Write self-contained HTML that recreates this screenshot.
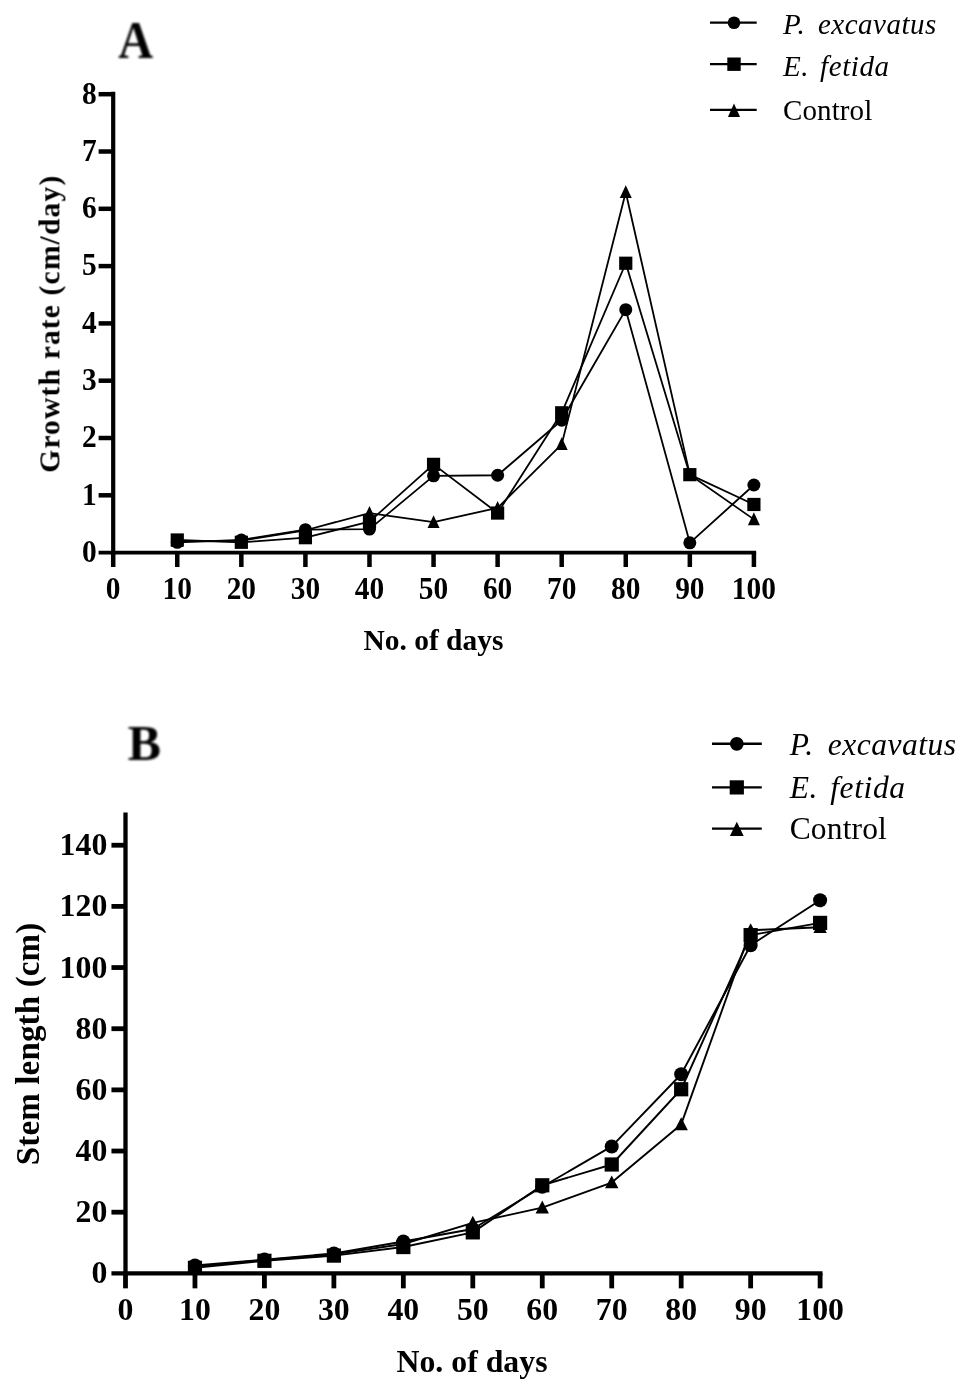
<!DOCTYPE html>
<html lang="en"><head><meta charset="utf-8"><title>Growth rate and stem length</title>
<style>html,body{margin:0;padding:0;background:#fff}svg{display:block}text{font-family:"Liberation Serif", "Times New Roman", serif;fill:#000}</style></head><body>
<svg width="967" height="1386" viewBox="0 0 967 1386">
<rect width="967" height="1386" fill="#fff"/>
<defs><filter id="soft" x="0" y="0" width="100%" height="100%" filterUnits="userSpaceOnUse" color-interpolation-filters="sRGB"><feGaussianBlur stdDeviation="0.55"/></filter><filter id="softer" x="-20%" y="-20%" width="140%" height="140%" color-interpolation-filters="sRGB"><feGaussianBlur stdDeviation="0.8"/></filter></defs>
<g filter="url(#soft)">
<g stroke="#000" fill="none" stroke-linecap="butt">
<path stroke-width="4.2" d="M113.2 91.8 V554.5"/>
<path stroke-width="3.8" d="M98.6 552.6 H756.15"/>
<g stroke-width="4.5">
<path d="M98.6 495.3 H113.2"/>
<path d="M98.6 438 H113.2"/>
<path d="M98.6 380.7 H113.2"/>
<path d="M98.6 323.4 H113.2"/>
<path d="M98.6 266.1 H113.2"/>
<path d="M98.6 208.8 H113.2"/>
<path d="M98.6 151.5 H113.2"/>
<path d="M98.6 94.2 H113.2"/>
<path d="M113.2 552.6 V567"/>
<path d="M177.27 552.6 V567"/>
<path d="M241.34 552.6 V567"/>
<path d="M305.41 552.6 V567"/>
<path d="M369.48 552.6 V567"/>
<path d="M433.55 552.6 V567"/>
<path d="M497.62 552.6 V567"/>
<path d="M561.69 552.6 V567"/>
<path d="M625.76 552.6 V567"/>
<path d="M689.83 552.6 V567"/>
<path d="M753.9 552.6 V567"/>
</g></g>
<text x="96.6" y="561.9" font-size="30.5" text-anchor="end" font-weight="bold" font-style="normal" textLength="14.7" lengthAdjust="spacingAndGlyphs">0</text>
<text x="96.6" y="504.6" font-size="30.5" text-anchor="end" font-weight="bold" font-style="normal" textLength="14.7" lengthAdjust="spacingAndGlyphs">1</text>
<text x="96.6" y="447.3" font-size="30.5" text-anchor="end" font-weight="bold" font-style="normal" textLength="14.7" lengthAdjust="spacingAndGlyphs">2</text>
<text x="96.6" y="390" font-size="30.5" text-anchor="end" font-weight="bold" font-style="normal" textLength="14.7" lengthAdjust="spacingAndGlyphs">3</text>
<text x="96.6" y="332.7" font-size="30.5" text-anchor="end" font-weight="bold" font-style="normal" textLength="14.7" lengthAdjust="spacingAndGlyphs">4</text>
<text x="96.6" y="275.4" font-size="30.5" text-anchor="end" font-weight="bold" font-style="normal" textLength="14.7" lengthAdjust="spacingAndGlyphs">5</text>
<text x="96.6" y="218.1" font-size="30.5" text-anchor="end" font-weight="bold" font-style="normal" textLength="14.7" lengthAdjust="spacingAndGlyphs">6</text>
<text x="96.6" y="160.8" font-size="30.5" text-anchor="end" font-weight="bold" font-style="normal" textLength="14.7" lengthAdjust="spacingAndGlyphs">7</text>
<text x="96.6" y="103.5" font-size="30.5" text-anchor="end" font-weight="bold" font-style="normal" textLength="14.7" lengthAdjust="spacingAndGlyphs">8</text>
<text x="113.2" y="598.6" font-size="30.5" text-anchor="middle" font-weight="bold" font-style="normal" textLength="14.7" lengthAdjust="spacingAndGlyphs">0</text>
<text x="177.27" y="598.6" font-size="30.5" text-anchor="middle" font-weight="bold" font-style="normal" textLength="29.4" lengthAdjust="spacingAndGlyphs">10</text>
<text x="241.34" y="598.6" font-size="30.5" text-anchor="middle" font-weight="bold" font-style="normal" textLength="29.4" lengthAdjust="spacingAndGlyphs">20</text>
<text x="305.41" y="598.6" font-size="30.5" text-anchor="middle" font-weight="bold" font-style="normal" textLength="29.4" lengthAdjust="spacingAndGlyphs">30</text>
<text x="369.48" y="598.6" font-size="30.5" text-anchor="middle" font-weight="bold" font-style="normal" textLength="29.4" lengthAdjust="spacingAndGlyphs">40</text>
<text x="433.55" y="598.6" font-size="30.5" text-anchor="middle" font-weight="bold" font-style="normal" textLength="29.4" lengthAdjust="spacingAndGlyphs">50</text>
<text x="497.62" y="598.6" font-size="30.5" text-anchor="middle" font-weight="bold" font-style="normal" textLength="29.4" lengthAdjust="spacingAndGlyphs">60</text>
<text x="561.69" y="598.6" font-size="30.5" text-anchor="middle" font-weight="bold" font-style="normal" textLength="29.4" lengthAdjust="spacingAndGlyphs">70</text>
<text x="625.76" y="598.6" font-size="30.5" text-anchor="middle" font-weight="bold" font-style="normal" textLength="29.4" lengthAdjust="spacingAndGlyphs">80</text>
<text x="689.83" y="598.6" font-size="30.5" text-anchor="middle" font-weight="bold" font-style="normal" textLength="29.4" lengthAdjust="spacingAndGlyphs">90</text>
<text x="753.9" y="598.6" font-size="30.5" text-anchor="middle" font-weight="bold" font-style="normal" textLength="44.1" lengthAdjust="spacingAndGlyphs">100</text>
<g stroke="#000" stroke-width="1.8" fill="none" stroke-linejoin="round">
<polyline points="177.27,542.29 241.34,539.99 305.41,529.68 369.48,529.11 433.55,475.82 497.62,475.25 561.69,420.24 625.76,309.65 689.83,542.86 753.9,484.99"/>
<polyline points="177.27,539.99 241.34,542.29 305.41,537.7 369.48,521.66 433.55,464.36 497.62,513.06 561.69,412.79 625.76,263.24 689.83,474.67 753.9,504.47"/>
<polyline points="177.27,541.14 241.34,540.57 305.41,530.25 369.48,513.06 433.55,522.23 497.62,507.91 561.69,444.3 625.76,192.18 689.83,474.67 753.9,519.37"/>
</g>
<g fill="#000">
<polygon points="177.27,534.14 183.27,546.94 171.27,546.94"/>
<polygon points="241.34,533.57 247.34,546.37 235.34,546.37"/>
<polygon points="305.41,523.25 311.41,536.05 299.41,536.05"/>
<polygon points="369.48,506.06 375.48,518.86 363.48,518.86"/>
<polygon points="433.55,515.23 439.55,528.03 427.55,528.03"/>
<polygon points="497.62,500.91 503.62,513.71 491.62,513.71"/>
<polygon points="561.69,437.3 567.69,450.1 555.69,450.1"/>
<polygon points="625.76,185.18 631.76,197.98 619.76,197.98"/>
<polygon points="689.83,467.67 695.83,480.47 683.83,480.47"/>
<polygon points="753.9,512.37 759.9,525.17 747.9,525.17"/>
<circle cx="177.27" cy="542.29" r="6.5"/>
<circle cx="241.34" cy="539.99" r="6.5"/>
<circle cx="305.41" cy="529.68" r="6.5"/>
<circle cx="369.48" cy="529.11" r="6.5"/>
<circle cx="433.55" cy="475.82" r="6.5"/>
<circle cx="497.62" cy="475.25" r="6.5"/>
<circle cx="561.69" cy="420.24" r="6.5"/>
<circle cx="625.76" cy="309.65" r="6.5"/>
<circle cx="689.83" cy="542.86" r="6.5"/>
<circle cx="753.9" cy="484.99" r="6.5"/>
<rect x="170.67" y="533.39" width="13.2" height="13.2"/>
<rect x="234.74" y="535.69" width="13.2" height="13.2"/>
<rect x="298.81" y="531.1" width="13.2" height="13.2"/>
<rect x="362.88" y="515.06" width="13.2" height="13.2"/>
<rect x="426.95" y="457.76" width="13.2" height="13.2"/>
<rect x="491.02" y="506.46" width="13.2" height="13.2"/>
<rect x="555.09" y="406.19" width="13.2" height="13.2"/>
<rect x="619.16" y="256.64" width="13.2" height="13.2"/>
<rect x="683.23" y="468.07" width="13.2" height="13.2"/>
<rect x="747.3" y="497.87" width="13.2" height="13.2"/>
</g>
<text x="433.4" y="650.3" font-size="30" text-anchor="middle" font-weight="bold" font-style="normal" textLength="140" lengthAdjust="spacingAndGlyphs">No. of days</text>
<text transform="translate(59.4 324.3) rotate(-90)" font-size="29.5" text-anchor="middle" font-weight="bold" textLength="297" lengthAdjust="spacing">Growth rate (cm/day)</text>
<text x="118.2" y="58" font-size="52" font-weight="bold" fill="#111" filter="url(#softer)" textLength="34.8" lengthAdjust="spacingAndGlyphs">A</text>
<g stroke="#000" stroke-width="2.3">
<path d="M710 22.7 H756.7"/>
<path d="M710 64.2 H756.7"/>
<path d="M710 109.8 H756.7"/>
</g><g fill="#000">
<circle cx="734" cy="22.7" r="6.3"/>
<rect x="727.3" y="57.5" width="13.4" height="13.4"/>
<polygon points="734,103.5 740.1,117.1 727.9,117.1"/>
</g>
<text x="783" y="33.8" font-size="29" text-anchor="start" font-weight="normal" font-style="italic" letter-spacing="0.5" word-spacing="5">P. excavatus</text>
<text x="783" y="76.2" font-size="29" text-anchor="start" font-weight="normal" font-style="italic" letter-spacing="0.6" word-spacing="3">E. fetida</text>
<text x="783" y="120.3" font-size="29" text-anchor="start" font-weight="normal" font-style="normal" letter-spacing="0.1" word-spacing="0">Control</text>
<g stroke="#000" fill="none" stroke-linecap="butt">
<path stroke-width="4.3" d="M125.5 812.4 V1275.45"/>
<path stroke-width="4.2" d="M111.45 1273.35 H822.5"/>
<g stroke-width="4.8">
<path d="M111.45 1212.19 H125.5"/>
<path d="M111.45 1151.03 H125.5"/>
<path d="M111.45 1089.87 H125.5"/>
<path d="M111.45 1028.71 H125.5"/>
<path d="M111.45 967.55 H125.5"/>
<path d="M111.45 906.39 H125.5"/>
<path d="M111.45 845.23 H125.5"/>
<path d="M125.5 1273.35 V1288.35"/>
<path d="M194.96 1273.35 V1288.35"/>
<path d="M264.42 1273.35 V1288.35"/>
<path d="M333.88 1273.35 V1288.35"/>
<path d="M403.34 1273.35 V1288.35"/>
<path d="M472.8 1273.35 V1288.35"/>
<path d="M542.26 1273.35 V1288.35"/>
<path d="M611.72 1273.35 V1288.35"/>
<path d="M681.18 1273.35 V1288.35"/>
<path d="M750.64 1273.35 V1288.35"/>
<path d="M820.1 1273.35 V1288.35"/>
</g></g>
<text x="107.3" y="1283.35" font-size="32.5" text-anchor="end" font-weight="bold" font-style="normal" textLength="15.9" lengthAdjust="spacingAndGlyphs">0</text>
<text x="107.3" y="1222.19" font-size="32.5" text-anchor="end" font-weight="bold" font-style="normal" textLength="31.8" lengthAdjust="spacingAndGlyphs">20</text>
<text x="107.3" y="1161.03" font-size="32.5" text-anchor="end" font-weight="bold" font-style="normal" textLength="31.8" lengthAdjust="spacingAndGlyphs">40</text>
<text x="107.3" y="1099.87" font-size="32.5" text-anchor="end" font-weight="bold" font-style="normal" textLength="31.8" lengthAdjust="spacingAndGlyphs">60</text>
<text x="107.3" y="1038.71" font-size="32.5" text-anchor="end" font-weight="bold" font-style="normal" textLength="31.8" lengthAdjust="spacingAndGlyphs">80</text>
<text x="107.3" y="977.55" font-size="32.5" text-anchor="end" font-weight="bold" font-style="normal" textLength="47.7" lengthAdjust="spacingAndGlyphs">100</text>
<text x="107.3" y="916.39" font-size="32.5" text-anchor="end" font-weight="bold" font-style="normal" textLength="47.7" lengthAdjust="spacingAndGlyphs">120</text>
<text x="107.3" y="855.23" font-size="32.5" text-anchor="end" font-weight="bold" font-style="normal" textLength="47.7" lengthAdjust="spacingAndGlyphs">140</text>
<text x="125.5" y="1319.5" font-size="32.5" text-anchor="middle" font-weight="bold" font-style="normal" textLength="15.9" lengthAdjust="spacingAndGlyphs">0</text>
<text x="194.96" y="1319.5" font-size="32.5" text-anchor="middle" font-weight="bold" font-style="normal" textLength="31.8" lengthAdjust="spacingAndGlyphs">10</text>
<text x="264.42" y="1319.5" font-size="32.5" text-anchor="middle" font-weight="bold" font-style="normal" textLength="31.8" lengthAdjust="spacingAndGlyphs">20</text>
<text x="333.88" y="1319.5" font-size="32.5" text-anchor="middle" font-weight="bold" font-style="normal" textLength="31.8" lengthAdjust="spacingAndGlyphs">30</text>
<text x="403.34" y="1319.5" font-size="32.5" text-anchor="middle" font-weight="bold" font-style="normal" textLength="31.8" lengthAdjust="spacingAndGlyphs">40</text>
<text x="472.8" y="1319.5" font-size="32.5" text-anchor="middle" font-weight="bold" font-style="normal" textLength="31.8" lengthAdjust="spacingAndGlyphs">50</text>
<text x="542.26" y="1319.5" font-size="32.5" text-anchor="middle" font-weight="bold" font-style="normal" textLength="31.8" lengthAdjust="spacingAndGlyphs">60</text>
<text x="611.72" y="1319.5" font-size="32.5" text-anchor="middle" font-weight="bold" font-style="normal" textLength="31.8" lengthAdjust="spacingAndGlyphs">70</text>
<text x="681.18" y="1319.5" font-size="32.5" text-anchor="middle" font-weight="bold" font-style="normal" textLength="31.8" lengthAdjust="spacingAndGlyphs">80</text>
<text x="750.64" y="1319.5" font-size="32.5" text-anchor="middle" font-weight="bold" font-style="normal" textLength="31.8" lengthAdjust="spacingAndGlyphs">90</text>
<text x="820.1" y="1319.5" font-size="32.5" text-anchor="middle" font-weight="bold" font-style="normal" textLength="47.7" lengthAdjust="spacingAndGlyphs">100</text>
<g stroke="#000" stroke-width="1.9" fill="none" stroke-linejoin="round">
<polyline points="194.96,1265.4 264.42,1259.59 333.88,1253.47 403.34,1241.55 472.8,1229.01 542.26,1186.81 611.72,1146.44 681.18,1074.27 750.64,945.23 820.1,900.27"/>
<polyline points="194.96,1267.85 264.42,1260.81 333.88,1255.61 403.34,1247.05 472.8,1232.37 542.26,1185.28 611.72,1164.49 681.18,1089.26 750.64,935.14 820.1,922.9"/>
<polyline points="194.96,1266.62 264.42,1259.89 333.88,1254.39 403.34,1243.99 472.8,1222.89 542.26,1207.6 611.72,1182.53 681.18,1124.43 750.64,930.24 820.1,927.18"/>
</g>
<g fill="#000">
<polygon points="194.96,1259.52 201.66,1272.42 188.26,1272.42"/>
<polygon points="264.42,1252.79 271.12,1265.69 257.72,1265.69"/>
<polygon points="333.88,1247.29 340.58,1260.19 327.18,1260.19"/>
<polygon points="403.34,1236.89 410.04,1249.79 396.64,1249.79"/>
<polygon points="472.8,1215.79 479.5,1228.69 466.1,1228.69"/>
<polygon points="542.26,1200.5 548.96,1213.4 535.56,1213.4"/>
<polygon points="611.72,1175.43 618.42,1188.33 605.02,1188.33"/>
<polygon points="681.18,1117.33 687.88,1130.23 674.48,1130.23"/>
<polygon points="750.64,923.14 757.34,936.04 743.94,936.04"/>
<polygon points="820.1,920.08 826.8,932.98 813.4,932.98"/>
<circle cx="194.96" cy="1265.4" r="7"/>
<circle cx="264.42" cy="1259.59" r="7"/>
<circle cx="333.88" cy="1253.47" r="7"/>
<circle cx="403.34" cy="1241.55" r="7"/>
<circle cx="472.8" cy="1229.01" r="7"/>
<circle cx="542.26" cy="1186.81" r="7"/>
<circle cx="611.72" cy="1146.44" r="7"/>
<circle cx="681.18" cy="1074.27" r="7"/>
<circle cx="750.64" cy="945.23" r="7"/>
<circle cx="820.1" cy="900.27" r="7"/>
<rect x="187.86" y="1260.75" width="14.2" height="14.2"/>
<rect x="257.32" y="1253.71" width="14.2" height="14.2"/>
<rect x="326.78" y="1248.51" width="14.2" height="14.2"/>
<rect x="396.24" y="1239.95" width="14.2" height="14.2"/>
<rect x="465.7" y="1225.27" width="14.2" height="14.2"/>
<rect x="535.16" y="1178.18" width="14.2" height="14.2"/>
<rect x="604.62" y="1157.39" width="14.2" height="14.2"/>
<rect x="674.08" y="1082.16" width="14.2" height="14.2"/>
<rect x="743.54" y="928.04" width="14.2" height="14.2"/>
<rect x="813" y="915.8" width="14.2" height="14.2"/>
</g>
<text x="472" y="1372" font-size="32" text-anchor="middle" font-weight="bold" font-style="normal" textLength="151" lengthAdjust="spacingAndGlyphs">No. of days</text>
<text transform="translate(39 1044) rotate(-90)" font-size="33" text-anchor="middle" font-weight="bold" textLength="242.5" lengthAdjust="spacing">Stem length (cm)</text>
<text x="127.8" y="760.3" font-size="50" font-weight="bold" fill="#111" filter="url(#softer)" textLength="33.3" lengthAdjust="spacingAndGlyphs">B</text>
<g stroke="#000" stroke-width="2.4">
<path d="M712 743.8 H761.8"/>
<path d="M712 787.4 H761.8"/>
<path d="M712 828.6 H761.8"/>
</g><g fill="#000">
<circle cx="736.8" cy="743.8" r="6.9"/>
<rect x="729.7" y="780.3" width="14.2" height="14.2"/>
<polygon points="736.8,821.7 743.7,835.9 729.9,835.9"/>
</g>
<text x="789.7" y="755" font-size="31.5" text-anchor="start" font-weight="normal" font-style="italic" letter-spacing="0.5" word-spacing="5.7">P. excavatus</text>
<text x="789.7" y="798.2" font-size="31.5" text-anchor="start" font-weight="normal" font-style="italic" letter-spacing="0.65" word-spacing="3.5">E. fetida</text>
<text x="789.7" y="838.9" font-size="31.5" text-anchor="start" font-weight="normal" font-style="normal" letter-spacing="0.15" word-spacing="0">Control</text>
</g>
</svg></body></html>
